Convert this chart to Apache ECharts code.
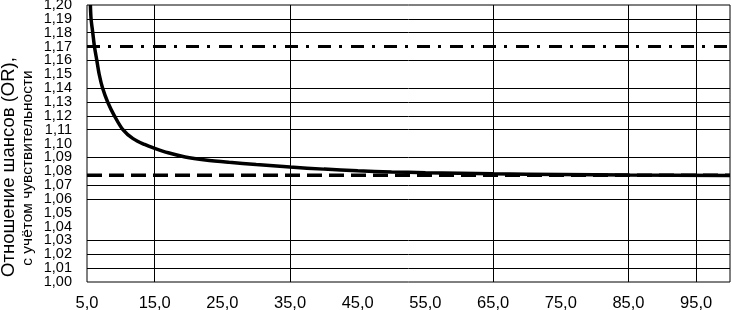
<!DOCTYPE html>
<html>
<head>
<meta charset="utf-8">
<script src="https://cdn.jsdelivr.net/npm/echarts@6/dist/echarts.min.js"></script>
<style>
  html, body { margin: 0; padding: 0; background: #fff; }
  #chart { width: 732px; height: 310px; }
</style>
</head>
<body>
<div id="chart"></div>
<script>
  // OR curve
  const xVals  = [5.5, 5.6, 5.85, 6.1, 6.45, 6.8, 7.3, 8.05, 9.05, 10.3, 11.8, 13.5, 15, 17, 19.5, 22.5, 26, 30, 35, 40, 45, 50, 55, 65, 75, 85, 100];
  const orVals = [1.200, 1.190, 1.180, 1.170, 1.160, 1.150, 1.140, 1.130, 1.120, 1.110, 1.1035, 1.0993, 1.0965, 1.0933, 1.0903, 1.0881, 1.0864, 1.0848, 1.0830, 1.0815, 1.0803, 1.0795, 1.0789, 1.0781, 1.0776, 1.0772, 1.0769];
  const upperLevel = 1.17;   // dash-dot line
  const lowerLevel = 1.077;  // dashed line
  const xRange = [5, 100];
  const yRange = [1, 1.2];
  const xLabelValues = [5, 15, 25, 35, 45, 55, 65, 75, 85, 95];
  // grid lines that are actually visible in the picture
  const hGridValues = [1.01, 1.02, 1.03, 1.06, 1.07, 1.09, 1.11, 1.12, 1.13, 1.14, 1.16, 1.18, 1.19];
  const vGridValues = [15, 35, 65, 85, 95];

  const myChart = echarts.init(document.getElementById('chart'))
  const comma = (v, d) => v.toFixed(d).replace('.', ',')

  const yLabel = {
    margin: 15,
    color: '#000',
    fontSize: 14.5,
    fontFamily: 'Liberation Sans Narrow, Liberation Sans, Arial, sans-serif',
    formatter: v => comma(v, 2)
  }

  myChart.setOption({
    animation: false,
    grid: {
      left: 87,
      right: 2,
      top: 5,
      bottom: 28,
      outerBoundsMode: 'none',
      show: true,
      borderColor: '#000',
      borderWidth: 1
    },
    xAxis: {
      type: 'value',
      min: xRange[0],
      max: xRange[1],
      axisLine: {show: false},
      axisTick: {show: false},
      splitLine: {show: false},
      axisLabel: {
        customValues: xLabelValues,
        margin: 13,
        color: '#000',
        fontSize: 16.5,
        fontFamily: 'Liberation Sans, Arial, sans-serif',
        formatter: v => comma(v, 1)
      }
    },
    yAxis: [
      {
        type: 'value',
        min: yRange[0],
        max: yRange[1],
        interval: 0.01,
        axisLine: {show: false},
        axisTick: {show: false},
        splitLine: {show: false},
        axisLabel: Object.assign({showMinLabel: false, showMaxLabel: false}, yLabel)
      },
      {
        // only the end labels (1,00 and 1,20), kept on their own axis so they are not dropped
        type: 'value',
        position: 'left',
        min: yRange[0],
        max: yRange[1],
        axisLine: {show: false},
        axisTick: {show: false},
        splitLine: {show: false},
        axisLabel: Object.assign({customValues: yRange, showMinLabel: true, showMaxLabel: true}, yLabel)
      }
    ],
    graphic: [
      {
        type: 'text',
        x: 9,
        y: 167,
        rotation: Math.PI / 2,
        style: {
          text: 'Отношение шансов (OR),',
          font: '18.5px "Liberation Sans", Arial, sans-serif',
          fill: '#000',
          align: 'center',
          verticalAlign: 'middle'
        }
      },
      {
        type: 'text',
        x: 28,
        y: 168,
        rotation: Math.PI / 2,
        style: {
          text: 'с учётом чувствительности',
          font: '15.5px "Liberation Sans", Arial, sans-serif',
          fill: '#000',
          align: 'center',
          verticalAlign: 'middle'
        }
      }
    ],
    series: [
      {
        // grid lines
        type: 'line',
        data: [],
        z: 1,
        markLine: {
          silent: true,
          symbol: 'none',
          label: {show: false},
          lineStyle: {color: '#000', width: 1, type: 'solid'},
          data: hGridValues.map(v => ({yAxis: v})).concat(vGridValues.map(v => ({xAxis: v})))
        }
      },
      {
        type: 'line',
        z: 3,
        data: [[xRange[0], lowerLevel], [xRange[1], lowerLevel]],
        showSymbol: false,
        lineStyle: {color: '#000', width: 3.5, type: [15, 7]}
      },
      {
        type: 'line',
        z: 3,
        data: [[xRange[0], upperLevel], [xRange[1], upperLevel]],
        showSymbol: false,
        lineStyle: {color: '#000', width: 3, type: [13, 8, 3, 9]}
      },
      {
        type: 'line',
        z: 4,
        data: xVals.map((x, i) => [x, orVals[i]]),
        showSymbol: false,
        smooth: 0.3,
        lineStyle: {color: '#000', width: 3.5}
      }
    ]
  })
</script>
</body>
</html>
